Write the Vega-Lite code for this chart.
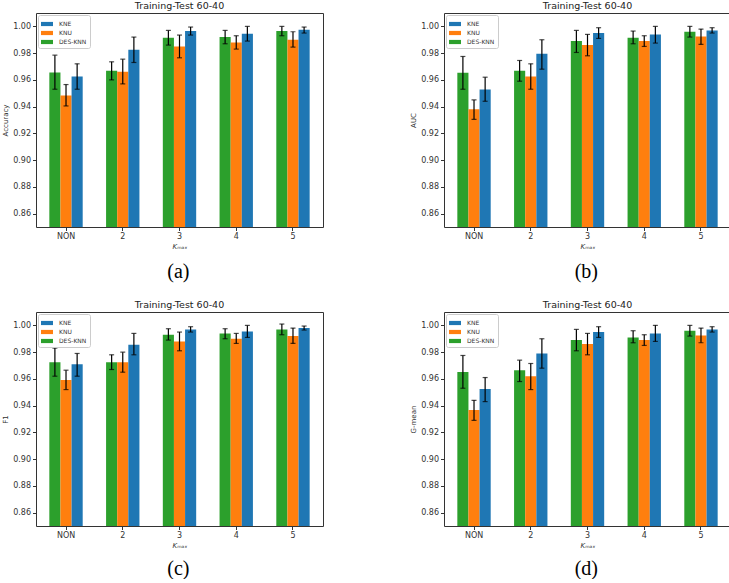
{
  "$schema": "https://vega.github.io/schema/vega-lite/v6.json",
  "padding": {"left": 1, "top": 0, "right": 0, "bottom": 0},
  "background": "white",
  "data": {"values": [
    {"m":"Accuracy","k":"NON","model":"DES-KNN","v":0.9655,"lo":0.953,"hi":0.9785},
    {"m":"Accuracy","k":"NON","model":"KNU","v":0.9483,"lo":0.9405,"hi":0.9565},
    {"m":"Accuracy","k":"NON","model":"KNE","v":0.9625,"lo":0.953,"hi":0.972},
    {"m":"Accuracy","k":"2","model":"DES-KNN","v":0.9668,"lo":0.960,"hi":0.9735},
    {"m":"Accuracy","k":"2","model":"KNU","v":0.966,"lo":0.957,"hi":0.9755},
    {"m":"Accuracy","k":"2","model":"KNE","v":0.9825,"lo":0.973,"hi":0.992},
    {"m":"Accuracy","k":"3","model":"DES-KNN","v":0.9915,"lo":0.986,"hi":0.997},
    {"m":"Accuracy","k":"3","model":"KNU","v":0.985,"lo":0.9765,"hi":0.9935},
    {"m":"Accuracy","k":"3","model":"KNE","v":0.9965,"lo":0.9935,"hi":0.9995},
    {"m":"Accuracy","k":"4","model":"DES-KNN","v":0.992,"lo":0.987,"hi":0.997},
    {"m":"Accuracy","k":"4","model":"KNU","v":0.988,"lo":0.983,"hi":0.993},
    {"m":"Accuracy","k":"4","model":"KNE","v":0.9945,"lo":0.989,"hi":1.000},
    {"m":"Accuracy","k":"5","model":"DES-KNN","v":0.9965,"lo":0.993,"hi":1.000},
    {"m":"Accuracy","k":"5","model":"KNU","v":0.990,"lo":0.9845,"hi":0.996},
    {"m":"Accuracy","k":"5","model":"KNE","v":0.9975,"lo":0.995,"hi":0.9995},
    {"m":"AUC","k":"NON","model":"DES-KNN","v":0.9653,"lo":0.953,"hi":0.9775},
    {"m":"AUC","k":"NON","model":"KNU","v":0.938,"lo":0.9305,"hi":0.945},
    {"m":"AUC","k":"NON","model":"KNE","v":0.9528,"lo":0.944,"hi":0.962},
    {"m":"AUC","k":"2","model":"DES-KNN","v":0.9668,"lo":0.959,"hi":0.9745},
    {"m":"AUC","k":"2","model":"KNU","v":0.9625,"lo":0.953,"hi":0.972},
    {"m":"AUC","k":"2","model":"KNE","v":0.9795,"lo":0.968,"hi":0.990},
    {"m":"AUC","k":"3","model":"DES-KNN","v":0.989,"lo":0.9805,"hi":0.997},
    {"m":"AUC","k":"3","model":"KNU","v":0.986,"lo":0.978,"hi":0.994},
    {"m":"AUC","k":"3","model":"KNE","v":0.995,"lo":0.991,"hi":0.999},
    {"m":"AUC","k":"4","model":"DES-KNN","v":0.9915,"lo":0.987,"hi":0.9965},
    {"m":"AUC","k":"4","model":"KNU","v":0.989,"lo":0.985,"hi":0.993},
    {"m":"AUC","k":"4","model":"KNE","v":0.994,"lo":0.9875,"hi":1.000},
    {"m":"AUC","k":"5","model":"DES-KNN","v":0.996,"lo":0.992,"hi":1.000},
    {"m":"AUC","k":"5","model":"KNU","v":0.9925,"lo":0.9865,"hi":0.998},
    {"m":"AUC","k":"5","model":"KNE","v":0.997,"lo":0.995,"hi":0.999},
    {"m":"F1","k":"NON","model":"DES-KNN","v":0.9724,"lo":0.962,"hi":0.983},
    {"m":"F1","k":"NON","model":"KNU","v":0.9592,"lo":0.952,"hi":0.9665},
    {"m":"F1","k":"NON","model":"KNE","v":0.971,"lo":0.962,"hi":0.979},
    {"m":"F1","k":"2","model":"DES-KNN","v":0.9725,"lo":0.967,"hi":0.978},
    {"m":"F1","k":"2","model":"KNU","v":0.9725,"lo":0.965,"hi":0.980},
    {"m":"F1","k":"2","model":"KNE","v":0.9855,"lo":0.978,"hi":0.994},
    {"m":"F1","k":"3","model":"DES-KNN","v":0.993,"lo":0.989,"hi":0.9975},
    {"m":"F1","k":"3","model":"KNU","v":0.988,"lo":0.981,"hi":0.995},
    {"m":"F1","k":"3","model":"KNE","v":0.997,"lo":0.995,"hi":0.999},
    {"m":"F1","k":"4","model":"DES-KNN","v":0.994,"lo":0.990,"hi":0.9975},
    {"m":"F1","k":"4","model":"KNU","v":0.990,"lo":0.9865,"hi":0.994},
    {"m":"F1","k":"4","model":"KNE","v":0.9955,"lo":0.991,"hi":1.000},
    {"m":"F1","k":"5","model":"DES-KNN","v":0.997,"lo":0.993,"hi":1.001},
    {"m":"F1","k":"5","model":"KNU","v":0.992,"lo":0.9865,"hi":0.998},
    {"m":"F1","k":"5","model":"KNE","v":0.998,"lo":0.9965,"hi":0.9995},
    {"m":"G-mean","k":"NON","model":"DES-KNN","v":0.9651,"lo":0.953,"hi":0.9775},
    {"m":"G-mean","k":"NON","model":"KNU","v":0.9367,"lo":0.929,"hi":0.944},
    {"m":"G-mean","k":"NON","model":"KNE","v":0.9525,"lo":0.943,"hi":0.961},
    {"m":"G-mean","k":"2","model":"DES-KNN","v":0.9665,"lo":0.958,"hi":0.974},
    {"m":"G-mean","k":"2","model":"KNU","v":0.962,"lo":0.952,"hi":0.9715},
    {"m":"G-mean","k":"2","model":"KNE","v":0.979,"lo":0.968,"hi":0.990},
    {"m":"G-mean","k":"3","model":"DES-KNN","v":0.989,"lo":0.981,"hi":0.997},
    {"m":"G-mean","k":"3","model":"KNU","v":0.986,"lo":0.978,"hi":0.994},
    {"m":"G-mean","k":"3","model":"KNE","v":0.995,"lo":0.991,"hi":0.999},
    {"m":"G-mean","k":"4","model":"DES-KNN","v":0.991,"lo":0.987,"hi":0.996},
    {"m":"G-mean","k":"4","model":"KNU","v":0.989,"lo":0.985,"hi":0.993},
    {"m":"G-mean","k":"4","model":"KNE","v":0.994,"lo":0.988,"hi":1.000},
    {"m":"G-mean","k":"5","model":"DES-KNN","v":0.996,"lo":0.992,"hi":1.000},
    {"m":"G-mean","k":"5","model":"KNU","v":0.9925,"lo":0.987,"hi":0.998},
    {"m":"G-mean","k":"5","model":"KNE","v":0.997,"lo":0.995,"hi":0.999}
  ]},
  "resolve": {"scale": {"color": "independent"}},
  "spacing": 17,
  "vconcat": [
    {
      "hconcat": [
        {
          "title": {"text": "(a)", "orient": "bottom", "anchor": "middle", "frame": "bounds", "dx": 16, "font": "Liberation Serif", "fontSize": 20, "fontWeight": "normal", "color": "black", "offset": 12},
          "vconcat": [{
            "title": {"text": "Training-Test 60-40", "anchor": "middle"},
            "width": 287, "height": 214,
            "transform": [{"filter": "datum.m === 'Accuracy'"}],
            "encoding": {
              "x": {"field": "k", "type": "nominal", "sort": ["NON","2","3","4","5"], "scale": {"paddingInner": 0.412, "paddingOuter": 0.235}, "axis": {"labelAngle": 0, "title": "Kₘₐₓ", "titleFontStyle": "italic", "titlePadding": 2}},
              "xOffset": {"field": "model", "type": "nominal", "sort": ["DES-KNN","KNU","KNE"], "scale": {"paddingInner": 0, "paddingOuter": 0}}
            },
            "layer": [
              {"mark": {"type": "bar", "clip": true}, "encoding": {
                "y": {"field": "v", "type": "quantitative", "title": "Accuracy", "scale": {"domain": [0.85, 1.01], "nice": false, "zero": false}, "axis": {"values": [0.86,0.88,0.9,0.92,0.94,0.96,0.98,1.0], "format": ".2f", "labelOverlap": false}},
                "color": {"field": "model", "type": "nominal", "scale": {"domain": ["KNE","KNU","DES-KNN"], "range": ["#1f77b4","#ff7f0e","#2ca02c"]}}}},
              {"mark": {"type": "rule", "color": "black", "strokeWidth": 1.2}, "encoding": {"y": {"field": "lo", "type": "quantitative", "title": "Accuracy", "axis": {"values": [0.86,0.88,0.9,0.92,0.94,0.96,0.98,1.0], "format": ".2f", "labelOverlap": false}}, "y2": {"field": "hi"}}},
              {"mark": {"type": "tick", "color": "black", "thickness": 1.2, "size": 5}, "encoding": {"y": {"field": "lo", "type": "quantitative", "title": "Accuracy", "axis": {"values": [0.86,0.88,0.9,0.92,0.94,0.96,0.98,1.0], "format": ".2f", "labelOverlap": false}}}},
              {"mark": {"type": "tick", "color": "black", "thickness": 1.2, "size": 5}, "encoding": {"y": {"field": "hi", "type": "quantitative", "title": "Accuracy", "axis": {"values": [0.86,0.88,0.9,0.92,0.94,0.96,0.98,1.0], "format": ".2f", "labelOverlap": false}}}}
            ]
          }]
        },
        {
          "title": {"text": "(b)", "orient": "bottom", "anchor": "middle", "frame": "bounds", "dx": 16, "font": "Liberation Serif", "fontSize": 20, "fontWeight": "normal", "color": "black", "offset": 12},
          "vconcat": [{
            "title": {"text": "Training-Test 60-40", "anchor": "middle"},
            "width": 287, "height": 214,
            "transform": [{"filter": "datum.m === 'AUC'"}],
            "encoding": {
              "x": {"field": "k", "type": "nominal", "sort": ["NON","2","3","4","5"], "scale": {"paddingInner": 0.412, "paddingOuter": 0.235}, "axis": {"labelAngle": 0, "title": "Kₘₐₓ", "titleFontStyle": "italic", "titlePadding": 2}},
              "xOffset": {"field": "model", "type": "nominal", "sort": ["DES-KNN","KNU","KNE"], "scale": {"paddingInner": 0, "paddingOuter": 0}}
            },
            "layer": [
              {"mark": {"type": "bar", "clip": true}, "encoding": {
                "y": {"field": "v", "type": "quantitative", "title": "AUC", "scale": {"domain": [0.85, 1.01], "nice": false, "zero": false}, "axis": {"values": [0.86,0.88,0.9,0.92,0.94,0.96,0.98,1.0], "format": ".2f", "labelOverlap": false}},
                "color": {"field": "model", "type": "nominal", "scale": {"domain": ["KNE","KNU","DES-KNN"], "range": ["#1f77b4","#ff7f0e","#2ca02c"]}}}},
              {"mark": {"type": "rule", "color": "black", "strokeWidth": 1.2}, "encoding": {"y": {"field": "lo", "type": "quantitative", "title": "AUC", "axis": {"values": [0.86,0.88,0.9,0.92,0.94,0.96,0.98,1.0], "format": ".2f", "labelOverlap": false}}, "y2": {"field": "hi"}}},
              {"mark": {"type": "tick", "color": "black", "thickness": 1.2, "size": 5}, "encoding": {"y": {"field": "lo", "type": "quantitative", "title": "AUC", "axis": {"values": [0.86,0.88,0.9,0.92,0.94,0.96,0.98,1.0], "format": ".2f", "labelOverlap": false}}}},
              {"mark": {"type": "tick", "color": "black", "thickness": 1.2, "size": 5}, "encoding": {"y": {"field": "hi", "type": "quantitative", "title": "AUC", "axis": {"values": [0.86,0.88,0.9,0.92,0.94,0.96,0.98,1.0], "format": ".2f", "labelOverlap": false}}}}
            ]
          }]
        }
      ],
      "spacing": 85,
      "resolve": {"scale": {"color": "independent"}}
    },
    {
      "hconcat": [
        {
          "title": {"text": "(c)", "orient": "bottom", "anchor": "middle", "frame": "bounds", "dx": 16, "font": "Liberation Serif", "fontSize": 20, "fontWeight": "normal", "color": "black", "offset": 10},
          "vconcat": [{
            "title": {"text": "Training-Test 60-40", "anchor": "middle"},
            "width": 287, "height": 214,
            "transform": [{"filter": "datum.m === 'F1'"}],
            "encoding": {
              "x": {"field": "k", "type": "nominal", "sort": ["NON","2","3","4","5"], "scale": {"paddingInner": 0.412, "paddingOuter": 0.235}, "axis": {"labelAngle": 0, "title": "Kₘₐₓ", "titleFontStyle": "italic", "titlePadding": 2}},
              "xOffset": {"field": "model", "type": "nominal", "sort": ["DES-KNN","KNU","KNE"], "scale": {"paddingInner": 0, "paddingOuter": 0}}
            },
            "layer": [
              {"mark": {"type": "bar", "clip": true}, "encoding": {
                "y": {"field": "v", "type": "quantitative", "title": "F1", "scale": {"domain": [0.85, 1.01], "nice": false, "zero": false}, "axis": {"values": [0.86,0.88,0.9,0.92,0.94,0.96,0.98,1.0], "format": ".2f", "labelOverlap": false}},
                "color": {"field": "model", "type": "nominal", "scale": {"domain": ["KNE","KNU","DES-KNN"], "range": ["#1f77b4","#ff7f0e","#2ca02c"]}}}},
              {"mark": {"type": "rule", "color": "black", "strokeWidth": 1.2}, "encoding": {"y": {"field": "lo", "type": "quantitative", "title": "F1", "axis": {"values": [0.86,0.88,0.9,0.92,0.94,0.96,0.98,1.0], "format": ".2f", "labelOverlap": false}}, "y2": {"field": "hi"}}},
              {"mark": {"type": "tick", "color": "black", "thickness": 1.2, "size": 5}, "encoding": {"y": {"field": "lo", "type": "quantitative", "title": "F1", "axis": {"values": [0.86,0.88,0.9,0.92,0.94,0.96,0.98,1.0], "format": ".2f", "labelOverlap": false}}}},
              {"mark": {"type": "tick", "color": "black", "thickness": 1.2, "size": 5}, "encoding": {"y": {"field": "hi", "type": "quantitative", "title": "F1", "axis": {"values": [0.86,0.88,0.9,0.92,0.94,0.96,0.98,1.0], "format": ".2f", "labelOverlap": false}}}}
            ]
          }]
        },
        {
          "title": {"text": "(d)", "orient": "bottom", "anchor": "middle", "frame": "bounds", "dx": 16, "font": "Liberation Serif", "fontSize": 20, "fontWeight": "normal", "color": "black", "offset": 10},
          "vconcat": [{
            "title": {"text": "Training-Test 60-40", "anchor": "middle"},
            "width": 287, "height": 214,
            "transform": [{"filter": "datum.m === 'G-mean'"}],
            "encoding": {
              "x": {"field": "k", "type": "nominal", "sort": ["NON","2","3","4","5"], "scale": {"paddingInner": 0.412, "paddingOuter": 0.235}, "axis": {"labelAngle": 0, "title": "Kₘₐₓ", "titleFontStyle": "italic", "titlePadding": 2}},
              "xOffset": {"field": "model", "type": "nominal", "sort": ["DES-KNN","KNU","KNE"], "scale": {"paddingInner": 0, "paddingOuter": 0}}
            },
            "layer": [
              {"mark": {"type": "bar", "clip": true}, "encoding": {
                "y": {"field": "v", "type": "quantitative", "title": "G-mean", "scale": {"domain": [0.85, 1.01], "nice": false, "zero": false}, "axis": {"values": [0.86,0.88,0.9,0.92,0.94,0.96,0.98,1.0], "format": ".2f", "labelOverlap": false}},
                "color": {"field": "model", "type": "nominal", "scale": {"domain": ["KNE","KNU","DES-KNN"], "range": ["#1f77b4","#ff7f0e","#2ca02c"]}}}},
              {"mark": {"type": "rule", "color": "black", "strokeWidth": 1.2}, "encoding": {"y": {"field": "lo", "type": "quantitative", "title": "G-mean", "axis": {"values": [0.86,0.88,0.9,0.92,0.94,0.96,0.98,1.0], "format": ".2f", "labelOverlap": false}}, "y2": {"field": "hi"}}},
              {"mark": {"type": "tick", "color": "black", "thickness": 1.2, "size": 5}, "encoding": {"y": {"field": "lo", "type": "quantitative", "title": "G-mean", "axis": {"values": [0.86,0.88,0.9,0.92,0.94,0.96,0.98,1.0], "format": ".2f", "labelOverlap": false}}}},
              {"mark": {"type": "tick", "color": "black", "thickness": 1.2, "size": 5}, "encoding": {"y": {"field": "hi", "type": "quantitative", "title": "G-mean", "axis": {"values": [0.86,0.88,0.9,0.92,0.94,0.96,0.98,1.0], "format": ".2f", "labelOverlap": false}}}}
            ]
          }]
        }
      ],
      "spacing": 85,
      "resolve": {"scale": {"color": "independent"}}
    }
  ],
  "config": {
    "font": "DejaVu Sans",
    "view": {"stroke": "#333", "strokeWidth": 1},
    "axis": {"domain": false, "grid": false, "tickColor": "#333", "tickSize": 3.5, "tickWidth": 1, "labelFontSize": 8, "labelColor": "#333", "labelFont": "DejaVu Sans", "labelPadding": 2, "labelOverlap": false, "titleFontSize": 7, "titleFont": "DejaVu Sans", "titleFontWeight": "normal", "titleColor": "#333"},
    "axisY": {"titlePadding": 4},
    "title": {"fontSize": 9.5, "fontWeight": "normal", "color": "#222", "offset": 3, "font": "DejaVu Sans"},
    "legend": {"title": null, "orient": "top-left", "offset": 2, "fillColor": "white", "strokeColor": "#ccc", "cornerRadius": 2, "padding": 3, "labelFontSize": 6, "labelColor": "#333", "symbolType": "M-1,-0.35L1,-0.35L1,0.35L-1,0.35Z", "symbolSize": 144, "symbolStrokeWidth": 0, "labelOffset": 6, "rowPadding": -2}
  }
}
